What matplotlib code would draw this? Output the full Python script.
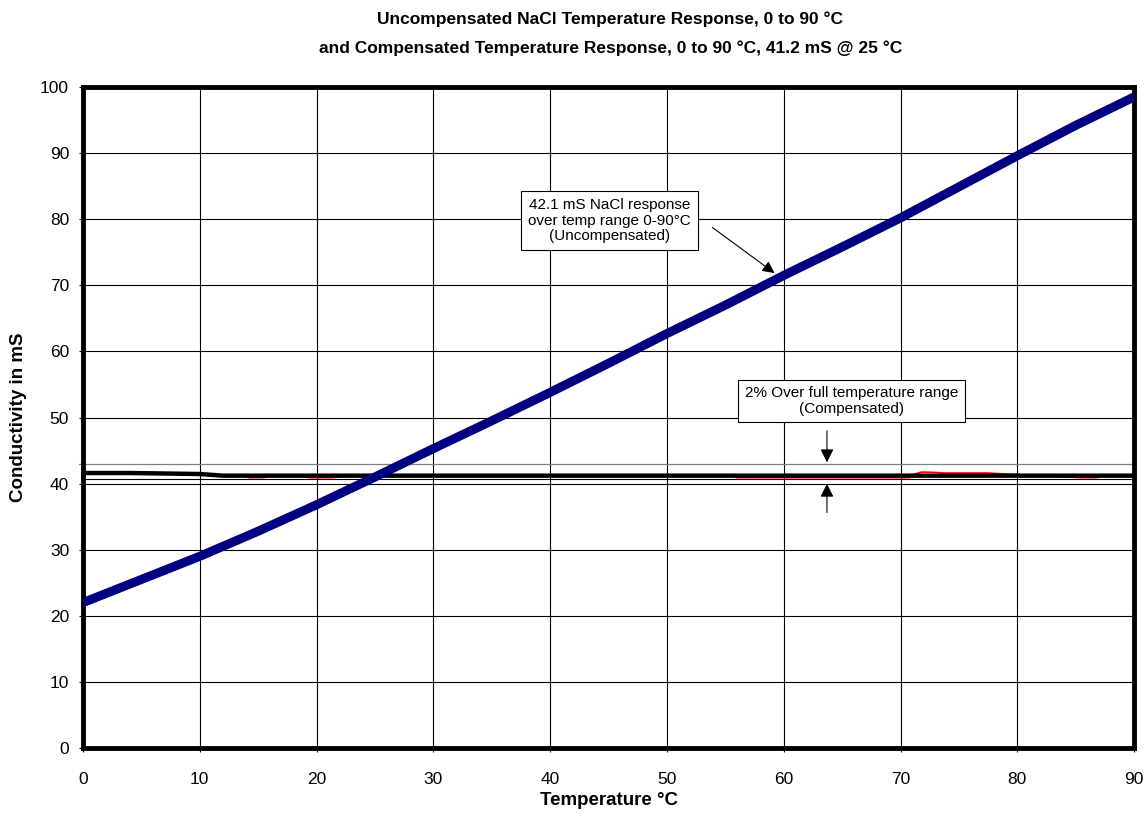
import numpy as np
import matplotlib.pyplot as plt

plt.rcParams['font.family'] = ['Liberation Sans', 'DejaVu Sans']

# uncompensated NaCl response (blue)
temp_unc = [0, 5, 10, 15, 20, 25, 30, 35, 40, 45, 50, 55, 60, 65, 70, 75, 80, 85, 90]
cond_unc = [22.0, 25.5, 29.0, 32.8, 36.8, 41.0, 45.3, 49.5, 53.8, 58.2, 62.7, 67.0,
            71.5, 75.8, 80.2, 84.9, 89.6, 94.2, 98.5]

# compensated response (red, mostly under the black line)
temp_comp = [0, 6, 8, 12, 13.5, 14.3, 15.4, 16.5, 18.5, 19.4, 21.4, 22.5, 55.5, 56, 59.3, 60,
             64.8, 65.4, 67.2, 68.7, 70.8, 71.1, 71.8, 72.8, 73.7, 77.5, 81, 85.4, 86.8, 87.5, 90]
cond_comp = [41.7, 41.7, 41.4, 41.2, 41.2, 40.9, 40.9, 41.2, 41.2, 40.9, 40.9, 41.2, 41.2, 40.9,
             40.9, 40.9, 40.9, 40.9, 40.9, 40.9, 40.9, 41.4, 41.75, 41.7, 41.6, 41.6, 41.25,
             40.9, 40.9, 41.2, 41.2]

# black compensated curve
temp_blk = [0, 4, 10, 12, 90]
cond_blk = [41.6, 41.6, 41.45, 41.2, 41.2]

band_hi = 42.9
band_lo = 40.7

fig = plt.figure(figsize=(11.45, 8.14), dpi=100)
ax = fig.add_axes([0.0725, 0.0811, 0.918, 0.812])

ax.axhline(band_hi, color='#808080', lw=0.9, zorder=1, xmin=-0.004, clip_on=False)
ax.axhline(band_lo, color='black', lw=0.8, zorder=1)
ax.plot(temp_comp, cond_comp, color='red', lw=1.2, zorder=2)
ax.plot(temp_blk, cond_blk, color='black', lw=3.2, zorder=3, solid_capstyle='butt')
ax.plot(temp_unc, cond_unc, color='#000080', lw=6.5, zorder=4, solid_capstyle='round')

ax.set_xlim(0, 90)
ax.set_ylim(0, 100)
ax.set_xticks(np.arange(0, 91, 10))
ax.set_yticks(np.arange(0, 101, 10))
ax.grid(True, color='black', lw=0.8)
ax.set_axisbelow(True)
for s in ax.spines.values():
    s.set_linewidth(3.5)
ax.tick_params(direction='out', length=3, width=0.8, labelsize=12.5)
ax.tick_params(axis='x', pad=14)
ax.tick_params(axis='y', pad=7)

ax.set_xlabel('Temperature °C', fontsize=13.5, fontweight='bold')
ax.set_ylabel('Conductivity in mS', fontsize=13.5, fontweight='bold')
ax.xaxis.set_label_coords(0.5, -0.066)
ax.yaxis.set_label_coords(-0.053, 0.5)
fig.text(0.533, 0.977, 'Uncompensated NaCl Temperature Response, 0 to 90 °C',
         ha='center', va='center', fontsize=12.5, fontweight='bold')
fig.text(0.533, 0.941, 'and Compensated Temperature Response, 0 to 90 °C, 41.2 mS @ 25 °C',
         ha='center', va='center', fontsize=12.5, fontweight='bold')

box = dict(boxstyle='square,pad=0.45', fc='white', ec='black', lw=0.8)
ax.text(45.1, 79.8, '42.1 mS NaCl response\nover temp range 0-90°C\n(Uncompensated)',
        ha='center', va='center', fontsize=11, bbox=box, linespacing=1.15, zorder=6)
ax.annotate('', xy=(59.4, 71.6), xytext=(53.7, 79.0),
            arrowprops=dict(arrowstyle='-|>', color='black', lw=0.8, mutation_scale=18), zorder=6)

ax.text(65.8, 52.5, '2% Over full temperature range\n(Compensated)',
        ha='center', va='center', fontsize=11, bbox=box, linespacing=1.1, zorder=6)
ax.annotate('', xy=(63.7, 42.8), xytext=(63.7, 48.4),
            arrowprops=dict(arrowstyle='-|>', color='black', lw=0.8, mutation_scale=20), zorder=6)
ax.annotate('', xy=(63.7, 40.4), xytext=(63.7, 35.2),
            arrowprops=dict(arrowstyle='-|>', color='black', lw=0.8, mutation_scale=20), zorder=6)

fig.savefig('out.png', dpi=100)
